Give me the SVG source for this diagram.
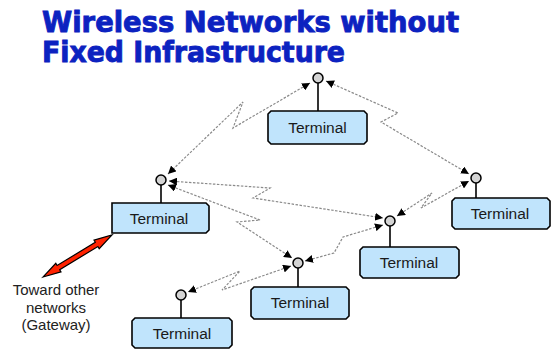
<svg xmlns="http://www.w3.org/2000/svg" width="551" height="354" viewBox="0 0 551 354">
<style>
.title{font-family:"DejaVu Sans","Liberation Sans",sans-serif;font-weight:bold;font-size:28px;fill:#0c22c0;stroke:#0c22c0;stroke-width:0.9}
.box{fill:#c0e4fc;stroke:#000;stroke-width:1.6}
.lbl{font-family:"Liberation Sans",Arial,sans-serif;font-size:15.5px;fill:#1a1a1a;text-anchor:middle}
.ant{fill:#d4d4d4;stroke:#000;stroke-width:1.5}
.stem{stroke:#000;stroke-width:1.6}
.link{fill:none;stroke:#8a8a8a;stroke-width:1.2;stroke-dasharray:2.5 1.5;marker-start:url(#ah);marker-end:url(#ah)}
.gw{font-family:"Liberation Sans",Arial,sans-serif;font-size:15px;fill:#222;text-anchor:middle}
</style>
<defs>
<marker id="ah" viewBox="0 0 10 10" refX="10" refY="5" markerWidth="8" markerHeight="8" markerUnits="userSpaceOnUse" orient="auto-start-reverse">
<path d="M0,0 L10,5 L0,10 z" fill="#000"/>
</marker>
</defs>
<rect width="551" height="354" fill="#fff"/>
<g id="title">
<text class="title" x="42" y="32" textLength="417" lengthAdjust="spacingAndGlyphs">Wireless Networks without</text>
<text class="title" x="42" y="62" textLength="303" lengthAdjust="spacingAndGlyphs">Fixed Infrastructure</text>
</g>
<g id="connectors">
<polyline class="link" points="310,83 233,128 243,102 168,174"/>
<polyline class="link" points="326,81 398,113 381,122 469,174"/>
<polyline class="link" points="169,181 270,188 253,198 383,218"/>
<polyline class="link" points="168,185 260,220 237,222 292,258"/>
<polyline class="link" points="383,225 343,237 334,253 305,261"/>
<polyline class="link" points="291,266 222,290 240,271 188,292"/>
<polyline class="link" points="397,216 432,193 421,208 469,181"/>
</g>
<g id="gateway">
<polygon points="43,277 61,271.9 59.7,269.7 97.9,246.5 99.2,248.7 112,235 94,240.1 95.3,242.3 57.1,265.5 55.8,263.3" fill="#ff2200" stroke="#000" stroke-width="1.2" stroke-linejoin="miter"/>
<text class="gw" x="56" y="295">Toward other</text>
<text class="gw" x="56" y="312.5">networks</text>
<text class="gw" x="56" y="330">(Gateway)</text>
</g>
<g id="terminal-top">
<line class="stem" x1="318" y1="83" x2="318" y2="111"/>
<circle class="ant" cx="318" cy="78" r="5"/>
<polygon class="box" points="271,111 364,111 367,114 367,141 364,144 271,144 268,141 268,114"/>
<text class="lbl" x="317.5" y="133">Terminal</text>
</g>
<g id="terminal-left">
<line class="stem" x1="161" y1="185" x2="161" y2="203"/>
<circle class="ant" cx="161" cy="180" r="5"/>
<polygon class="box" points="112,203 206,203 209,206 209,230 206,233 112,233"/>
<text class="lbl" x="159" y="224">Terminal</text>
</g>
<g id="terminal-right">
<line class="stem" x1="476" y1="183" x2="476" y2="198"/>
<circle class="ant" cx="476" cy="178" r="5"/>
<polygon class="box" points="455,198 547,198 550,201 550,226 547,229 455,229 452,226 452,201"/>
<text class="lbl" x="500" y="219">Terminal</text>
</g>
<g id="terminal-midright">
<line class="stem" x1="390" y1="226" x2="390" y2="247"/>
<circle class="ant" cx="390" cy="221" r="5"/>
<polygon class="box" points="363,247 456,247 459,250 459,275 456,278 363,278 360,275 360,250"/>
<text class="lbl" x="409" y="268">Terminal</text>
</g>
<g id="terminal-mid">
<line class="stem" x1="298" y1="268" x2="298" y2="287"/>
<circle class="ant" cx="298" cy="263" r="5"/>
<polygon class="box" points="254,287 346,287 349,290 349,316 346,319 254,319 251,316 251,290"/>
<text class="lbl" x="300" y="308">Terminal</text>
</g>
<g id="terminal-bottomleft">
<line class="stem" x1="181" y1="300" x2="181" y2="318"/>
<circle class="ant" cx="181" cy="295" r="5"/>
<polygon class="box" points="135,318 229,318 232,321 232,345 229,348 135,348 132,345 132,321"/>
<text class="lbl" x="182" y="339">Terminal</text>
</g>
</svg>
